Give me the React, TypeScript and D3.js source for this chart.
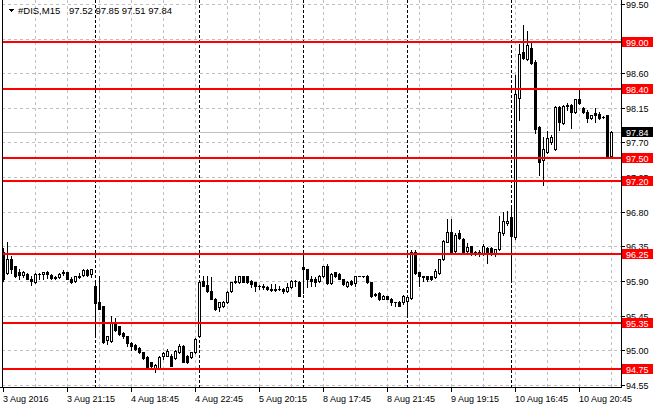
import * as d3 from 'd3';

// 15-minute bars, #DIS, 3 Aug 17:15 .. 10 Aug 22:45 (trading hours only)
const opens = [
  96.28, 96.00, 96.18, 96.09, 96.01, 95.98, 95.99, 95.93, 95.88, 95.99, 95.99, 96.01, 95.98, 95.95, 95.95, 96.02,
  96.01, 95.93, 95.90, 95.97, 95.98, 96.04, 95.99, 95.83, 95.62, 95.57, 95.13, 95.12, 95.36, 95.31, 95.22, 95.18,
  95.09, 95.07, 95.03, 94.97, 94.91, 94.84, 94.77, 94.76, 94.92, 94.93, 94.93, 94.90, 94.97, 95.06, 94.93, 94.91,
  94.97, 95.18, 95.90, 95.85, 95.77, 95.67, 95.56, 95.58, 95.62, 95.77, 95.88, 95.88, 95.96, 95.96, 95.90, 95.88,
  95.84, 95.84, 95.82, 95.80, 95.79, 95.79, 95.80, 95.77, 95.82, 95.90, 95.88, 96.08, 96.05, 95.93, 95.93, 95.90,
  95.96, 96.09, 95.87, 96.01, 95.99, 95.92, 95.83, 95.90, 95.87, 95.97, 95.97, 95.97, 95.88, 95.72, 95.74, 95.67,
  95.70, 95.67, 95.63, 95.63, 95.62, 95.64, 95.68, 96.28, 96.01, 95.96, 95.96, 95.96, 95.95, 96.00, 96.18, 96.41,
  96.54, 96.29, 96.52, 96.45, 96.29, 96.35, 96.28, 96.28, 96.25, 96.33, 96.33, 96.25, 96.31, 96.52, 96.65, 96.73,
  96.47, 98.28, 98.87, 98.78, 98.93, 98.75, 97.90, 97.47, 97.58, 97.70, 97.61, 98.16, 97.95, 98.17, 98.19, 98.09,
  98.27, 98.15, 98.10, 98.02, 98.08, 98.07, 98.03, 98.05, 97.52,
];
const highs = [
  96.33, 96.40, 96.22, 96.10, 96.06, 96.03, 96.00, 95.96, 96.00, 96.00, 96.01, 96.03, 95.99, 95.96, 96.00, 96.04,
  96.02, 95.95, 95.97, 96.00, 96.06, 96.05, 96.05, 95.90, 95.97, 95.58, 95.19, 95.45, 95.42, 95.32, 95.24, 95.19,
  95.10, 95.08, 95.04, 94.98, 94.92, 94.85, 94.82, 94.93, 94.98, 95.02, 94.95, 95.00, 95.08, 95.07, 94.94, 94.98,
  95.16, 95.90, 95.96, 95.96, 95.95, 95.68, 95.63, 95.64, 95.77, 95.89, 95.96, 95.97, 95.97, 95.97, 95.91, 95.89,
  95.85, 95.86, 95.83, 95.86, 95.86, 95.83, 95.81, 95.87, 95.91, 95.91, 95.90, 96.23, 96.06, 95.96, 95.95, 95.98,
  96.10, 96.12, 96.00, 96.02, 96.00, 95.93, 95.90, 95.91, 95.97, 95.97, 95.97, 95.98, 95.89, 95.74, 95.75, 95.72,
  95.71, 95.68, 95.63, 95.64, 95.72, 95.70, 96.30, 96.30, 96.02, 95.97, 95.97, 95.97, 96.05, 96.19, 96.43, 96.70,
  96.70, 96.52, 96.56, 96.46, 96.39, 96.36, 96.29, 96.30, 96.38, 96.34, 96.34, 96.32, 96.74, 96.80, 96.81, 96.87,
  98.57, 98.98, 99.23, 99.15, 98.99, 98.77, 97.91, 97.77, 97.85, 97.80, 98.17, 98.17, 98.18, 98.21, 98.20, 98.27,
  98.38, 98.16, 98.12, 98.06, 98.15, 98.10, 98.04, 98.06, 97.85,
];
const lows = [
  95.90, 95.99, 96.00, 95.95, 95.92, 95.95, 95.92, 95.85, 95.87, 95.92, 95.93, 95.94, 95.93, 95.92, 95.94, 95.98,
  95.92, 95.87, 95.89, 95.94, 95.97, 95.96, 95.95, 95.18, 95.53, 95.09, 95.08, 95.11, 95.25, 95.20, 95.16, 95.05,
  95.00, 95.00, 94.96, 94.89, 94.77, 94.77, 94.71, 94.75, 94.88, 94.92, 94.79, 94.88, 94.96, 94.84, 94.83, 94.90,
  94.96, 95.17, 95.83, 95.76, 95.66, 95.52, 95.51, 95.56, 95.61, 95.76, 95.87, 95.87, 95.88, 95.87, 95.82, 95.77,
  95.80, 95.80, 95.78, 95.77, 95.77, 95.78, 95.74, 95.76, 95.81, 95.83, 95.70, 95.74, 95.82, 95.83, 95.83, 95.89,
  95.95, 95.86, 95.86, 95.95, 95.92, 95.85, 95.82, 95.85, 95.84, 95.96, 95.95, 95.87, 95.69, 95.71, 95.65, 95.66,
  95.66, 95.59, 95.57, 95.57, 95.60, 95.46, 95.66, 95.99, 95.83, 95.90, 95.90, 95.91, 95.94, 95.99, 96.17, 96.40,
  96.26, 96.28, 96.44, 96.26, 96.28, 96.24, 96.24, 96.23, 96.24, 96.13, 96.24, 96.23, 96.30, 96.50, 96.63, 95.90,
  96.45, 97.99, 98.79, 98.77, 98.72, 97.82, 97.27, 97.15, 97.56, 97.68, 97.60, 97.86, 97.94, 98.12, 97.89, 98.08,
  98.20, 98.08, 97.97, 98.00, 97.97, 98.01, 98.02, 97.50, 97.51,
];
const closes = [
  95.92, 96.19, 96.06, 95.96, 95.98, 96.01, 95.93, 95.90, 95.99, 95.99, 96.01, 95.99, 95.94, 95.94, 95.99, 96.00,
  95.93, 95.88, 95.96, 95.95, 96.04, 95.98, 96.05, 95.61, 95.54, 95.11, 95.18, 95.36, 95.26, 95.21, 95.18, 95.09,
  95.05, 95.02, 94.97, 94.90, 94.78, 94.79, 94.81, 94.91, 94.96, 94.99, 94.80, 94.99, 95.06, 94.85, 94.84, 94.97,
  95.15, 95.89, 95.84, 95.77, 95.67, 95.54, 95.62, 95.62, 95.76, 95.88, 95.90, 95.96, 95.89, 95.88, 95.86, 95.84,
  95.84, 95.82, 95.80, 95.78, 95.78, 95.79, 95.77, 95.82, 95.90, 95.90, 95.71, 96.05, 95.93, 95.90, 95.89, 95.97,
  96.09, 95.87, 95.99, 95.96, 95.93, 95.86, 95.89, 95.86, 95.96, 95.96, 95.96, 95.88, 95.70, 95.73, 95.66, 95.71,
  95.67, 95.63, 95.62, 95.58, 95.70, 95.69, 96.28, 96.00, 95.96, 95.95, 95.93, 95.93, 96.03, 96.18, 96.42, 96.54,
  96.28, 96.50, 96.46, 96.28, 96.34, 96.25, 96.25, 96.25, 96.35, 96.28, 96.25, 96.31, 96.54, 96.68, 96.68, 96.48,
  98.33, 98.85, 98.80, 98.96, 98.73, 97.88, 97.45, 97.61, 97.76, 97.77, 98.16, 97.97, 98.17, 98.18, 98.09, 98.26,
  98.21, 98.09, 98.02, 98.05, 98.05, 98.02, 98.03, 97.51, 97.84,
];

const timeLabels = [
  '3 Aug 2016', '3 Aug 21:15', '4 Aug 18:45', '4 Aug 22:45', '5 Aug 20:15',
  '8 Aug 17:45', '8 Aug 21:45', '9 Aug 19:15', '10 Aug 16:45', '10 Aug 20:45',
];
const timeLabelBars = [0, 16, 32, 48, 64, 80, 96, 112, 128, 144];
const daySeparatorBars = [23, 49, 75, 101, 127];
const priceTicks = [99.5, 99.05, 98.6, 98.15, 97.7, 97.25, 96.8, 96.35, 95.9, 95.45, 95.0, 94.55];
const levels = [99.0, 98.4, 97.5, 97.2, 96.25, 95.35, 94.75];
const lastPrice = 97.84;
const header = { symbol: '#DIS,M15', ohlc: '97.52 97.85 97.51 97.84' };

const W = 660;
const H = 410;
const left = 2;
const right = 621;
const bottom = 387;
const font = '"Liberation Sans", Arial, sans-serif';

export default function App() {
  const x = d3.scaleLinear().domain([0, 1]).range([3, 7]);
  const y = d3.scaleLinear().domain([94.55, 99.5]).range([384.8, 3.9]);
  const py = (v: number) => Math.round(y(v)) + 0.5;

  const gridBars = d3.range(8, closes.length, 8);

  return (
    <svg
      width={W}
      height={H}
      style={{ position: 'absolute', left: 0, top: 0, background: '#fff' }}
      shapeRendering="crispEdges"
    >
      <rect width={W} height={H} fill="#fff" />

      {/* grid */}
      {priceTicks.map(t => (
        <line key={'hg' + t} x1={left} x2={right} y1={py(t)} y2={py(t)}
          stroke="#c0c0c0" strokeDasharray="3,3" />
      ))}
      {gridBars.map(b => (
        <line key={'vg' + b} x1={x(b) + 0.5} x2={x(b) + 0.5} y1={0} y2={bottom}
          stroke="#c0c0c0" strokeDasharray="3,3" />
      ))}
      {daySeparatorBars.map(b => (
        <line key={'ds' + b} x1={x(b) + 0.5} x2={x(b) + 0.5} y1={0} y2={bottom}
          stroke="#000" strokeDasharray="3,2" />
      ))}

      {/* bid line */}
      <line x1={left} x2={right} y1={py(lastPrice)} y2={py(lastPrice)} stroke="#c0c0c0" />

      {/* candles */}
      {closes.map((c, i) => {
        const o = opens[i];
        const cx = x(i);
        const yTop = Math.round(y(Math.max(o, c)));
        const yBot = Math.round(y(Math.min(o, c)));
        const bull = c >= o;
        return (
          <g key={'c' + i}>
            <line x1={cx + 0.5} x2={cx + 0.5} y1={Math.round(y(highs[i]))} y2={Math.round(y(lows[i])) + 1} stroke="#000" />
            {yBot - yTop < 1 ? (
              <line x1={cx - 1} x2={cx + 2} y1={yTop + 0.5} y2={yTop + 0.5} stroke="#000" />
            ) : bull ? (
              <rect x={cx - 0.5} y={yTop + 0.5} width={2} height={yBot - yTop} fill="#fff" stroke="#000" />
            ) : (
              <rect x={cx - 1} y={yTop} width={3} height={yBot - yTop + 1} fill="#000" />
            )}
          </g>
        );
      })}

      {/* support / resistance levels */}
      {levels.map(l => (
        <rect key={'lv' + l} x={left} y={Math.round(y(l)) - 1} width={right - left} height={2} fill="#ff0000" />
      ))}

      {/* frame */}
      <line x1={left + 0.5} x2={left + 0.5} y1={0} y2={bottom + 1} stroke="#000" />
      <line x1={right + 0.5} x2={right + 0.5} y1={0} y2={bottom + 1} stroke="#000" />
      <line x1={0} x2={right + 1} y1={bottom + 0.5} y2={bottom + 0.5} stroke="#000" />

      {/* price axis */}
      {priceTicks.map(t => (
        <g key={'pt' + t}>
          <line x1={right + 1} x2={right + 4} y1={py(t)} y2={py(t)} stroke="#000" />
          <text x={626} y={Math.round(y(t)) + 3.5} fontFamily={font} fontSize={9} fill="#000">
            {t.toFixed(2)}
          </text>
        </g>
      ))}
      {levels.map(l => (
        <g key={'pl' + l}>
          <rect x={right + 1} y={Math.round(y(l)) - 5} width={31} height={10} fill="#ff0000" />
          <text x={626} y={Math.round(y(l)) + 3.5} fontFamily={font} fontSize={9} fill="#fff">
            {l.toFixed(2)}
          </text>
        </g>
      ))}
      <rect x={right + 1} y={Math.round(y(lastPrice)) - 5} width={31} height={10} fill="#000" />
      <text x={626} y={Math.round(y(lastPrice)) + 3.5} fontFamily={font} fontSize={9} fill="#fff">
        {lastPrice.toFixed(2)}
      </text>

      {/* time axis */}
      {timeLabelBars.map((b, i) => (
        <g key={'tl' + b}>
          <line x1={x(b) + 0.5} x2={x(b) + 0.5} y1={bottom + 1} y2={bottom + 5} stroke="#000" />
          <text x={x(b)} y={402} fontFamily={font} fontSize={9} fill="#000">
            {timeLabels[i]}
          </text>
        </g>
      ))}

      {/* header */}
      <path d="M8,9 L14,9 L11,12 Z" fill="#000" />
      <text x={18} y={14} fontFamily={font} fontSize={9.5} fill="#000">{header.symbol}</text>
      <text x={69} y={14} fontFamily={font} fontSize={9.5} fill="#000">{header.ohlc}</text>
    </svg>
  );
}
